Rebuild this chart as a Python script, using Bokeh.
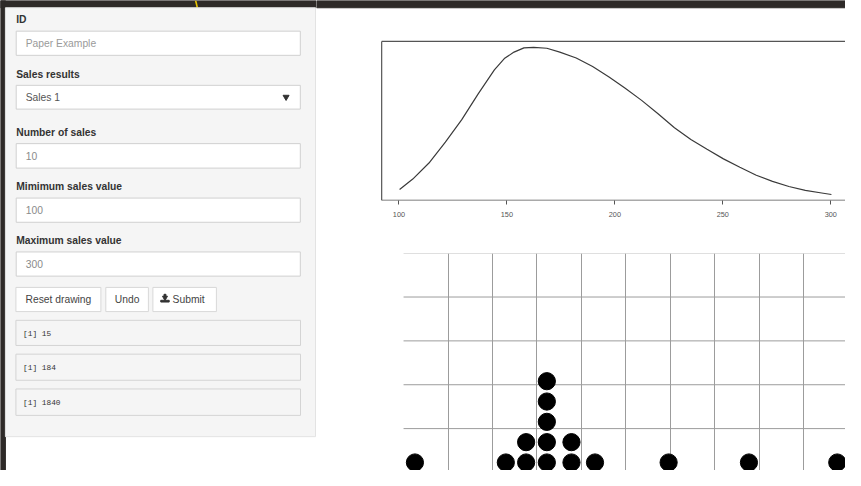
from bokeh.plotting import figure
from bokeh.layouts import row, column
from bokeh.models import Range1d, FixedTicker, Grid
from bokeh.core.properties import value
from bokeh.embed import file_html
from bokeh.resources import INLINE

# ---------------- data ----------------
# smoothed density of the drawn sales values
density_x = [100.3, 106.4, 113.9, 121.5, 129.1, 136.7, 144.2, 148.8, 153.3, 157.9,
             162.4, 168.5, 174.5, 182.1, 189.7, 197.3, 204.8, 212.4, 220.0, 227.6,
             235.2, 242.7, 250.3, 257.9, 265.5, 273.0, 280.6, 288.2, 295.8, 300.3]
density_y = [0.00069, 0.00136, 0.00240, 0.00375, 0.00521, 0.00688, 0.00844, 0.00917, 0.00959, 0.00986,
             0.00990, 0.00984, 0.00959, 0.00921, 0.00865, 0.00798, 0.00725, 0.00646, 0.00559, 0.00469,
             0.00392, 0.00329, 0.00267, 0.00213, 0.00161, 0.00121, 0.00088, 0.00063, 0.00046, 0.00036]
tick_values = [100, 150, 200, 250, 300]

# drawn sales (one dot per sale)
dot_values = [107.4, 149.5, 158.9, 158.9, 168.5, 168.5, 168.5, 168.5, 168.5,
              179.9, 179.9, 190.8, 224.9, 262.1, 303.0]

# form inputs
form_id = "Paper Example"
form_sales = "Sales 1"
number_of_sales = 10
min_sales = 100
max_sales = 300

# ---------------- derived ----------------
levels = []
seen = {}
for v in dot_values:
    seen[v] = seen.get(v, 0) + 1
    levels.append(seen[v])
n_dots = len(dot_values)
mean_val = round(sum(dot_values) / n_dots)
total_val = mean_val * number_of_sales

SANS = value("Liberation Sans")
MONO = value("Liberation Mono")
DARK = "#2e2a28"

# ---------------- left panel (reference pixel units) ----------------
pf = figure(width=316, height=470, x_range=Range1d(0, 322), y_range=Range1d(486, 0),
            x_axis_type=None, y_axis_type=None, output_backend="svg",
            toolbar_location=None, min_border=0)
pf.grid.visible = False
pf.outline_line_color = None
pf.background_fill_color = "white"
pf.border_fill_color = "white"

pf.quad(left=[0], right=[322], top=[0], bottom=[7.5], color=DARK)
pf.quad(left=[0], right=[5], top=[0], bottom=[486], color=DARK)
pf.segment(x0=[198.8], y0=[0], x1=[200.6], y1=[7.5], line_color="#e6c200", line_width=1.6)
pf.quad(left=[5], right=[321], top=[7.5], bottom=[451], fill_color="#f5f5f5", line_color="#e3e3e3")

# input boxes
in_top = [31.7, 87.7, 148.0, 204.3, 260.0]
in_bot = [56.7, 112.3, 173.3, 229.3, 285.0]
pf.quad(left=[16] * 5, right=[305.5] * 5, top=in_top, bottom=in_bot,
        fill_color="white", line_color="#d0d0d0")

# labels
lab_y = [20, 77, 136, 192.7, 248.5]
lab_t = ["ID", "Sales results", "Number of sales", "Mimimum sales value", "Maximum sales value"]
pf.text(x=[16] * 5, y=lab_y, text=lab_t, text_font=SANS, text_font_size="10.3px",
        text_font_style="bold", text_color="#333333", text_baseline="middle")

# input values
pf.text(x=[25.7], y=[44.5], text=[form_id], text_font=SANS, text_font_size="10.3px",
        text_color="#9a9a9a", text_baseline="middle")
pf.text(x=[25.7], y=[100.3], text=[form_sales], text_font=SANS, text_font_size="10.3px",
        text_color="#555555", text_baseline="middle")
pf.text(x=[25.7] * 3, y=[160.8, 217.0, 272.7],
        text=[str(number_of_sales), str(min_sales), str(max_sales)],
        text_font=SANS, text_font_size="10.3px", text_color="#8a8a8a", text_baseline="middle")
pf.scatter(x=[291], y=[99.8], marker="inverted_triangle", size=6, color="#333333")

# buttons
pf.quad(left=[15.7, 107.3, 155.3], right=[102.3, 150.7, 220.0], top=[296.7] * 3, bottom=[321.7] * 3,
        fill_color="white", line_color="#d8d8d8")
pf.text(x=[59.0, 129.0, 191.7], y=[309.3] * 3, text=["Reset drawing", "Undo", "Submit"],
        text_font=SANS, text_font_size="10.3px", text_color="#444444",
        text_baseline="middle", text_align="center")
# download icon
pf.quad(left=[166.6], right=[168.6], top=[303.8], bottom=[306.5], color="#333333")
pf.scatter(x=[167.6], y=[307.3], marker="inverted_triangle", size=5, color="#333333")
pf.quad(left=[163.3], right=[171.9], top=[310.0], bottom=[311.8], color="#333333")

# verbatim outputs
pf.quad(left=[15.7] * 3, right=[305.7] * 3, top=[330.7, 365.7, 401.7], bottom=[356.7, 392.7, 429.0],
        fill_color="#f5f5f5", line_color="#d4d4d4")
pf.text(x=[23] * 3, y=[344.5, 380.3, 415.8],
        text=["[1] %d" % n_dots, "[1] %d" % mean_val, "[1] %d" % total_val],
        text_font=MONO, text_font_size="7.8px", text_color="#333333", text_baseline="middle")

# ---------------- density plot ----------------
# R-style plot box: data range extended by 4 % on each side
xmin, xmax = min(tick_values), max(tick_values)
box_x0 = xmin - 0.04 * (xmax - xmin)
ymin, ymax = min(density_y), max(density_y)
box_y0 = ymin - 0.04 * (ymax - ymin)
box_y1 = ymax + 0.04 * (ymax - ymin)

# frame covers the whole right column (reference px 322..861, 0..206.8)
px_per_x = 2.2                       # reference px per sales unit
fx0 = xmin - (406 - 322) / px_per_x
fx1 = xmin + (861 - 406) / px_per_x
u_y = (box_y1 - box_y0) / 164.4      # density units per reference px
fy0 = box_y0 - 0.1 * u_y
fy1 = box_y1 + 42.3 * u_y
band_y = fy1 - 7.5 * u_y

pd_ = figure(width=529, height=235, x_range=Range1d(fx0, fx1), y_range=Range1d(fy0, fy1),
             y_axis_type=None, output_backend="svg", toolbar_location=None,
             min_border_left=0, min_border_right=0, min_border_top=0, min_border_bottom=35)
pd_.grid.visible = False
pd_.outline_line_color = None
pd_.xaxis.ticker = FixedTicker(ticks=tick_values)
pd_.xaxis.minor_tick_line_color = None
pd_.xaxis.major_tick_in = 0
pd_.xaxis.major_tick_out = 4
pd_.xaxis.axis_line_color = None
pd_.xaxis.major_tick_line_color = "#555555"
pd_.xaxis.major_label_text_font = "Liberation Sans"
pd_.xaxis.major_label_text_font_size = "7.3px"
pd_.xaxis.major_label_text_color = "#555555"
pd_.xaxis.major_label_standoff = 7

pd_.quad(left=[fx0], right=[fx1], top=[fy1], bottom=[band_y], color=DARK)
pd_.segment(x0=[box_x0, box_x0, box_x0], x1=[fx1, fx1, box_x0],
            y0=[box_y1, box_y0, box_y0], y1=[box_y1, box_y0, box_y1],
            line_color="#555555", line_width=1.2)
pd_.line(density_x, density_y, line_color="#3a3a3a", line_width=1.2)

# ---------------- dot drawing area ----------------
gy0, gy1 = 0.605, 11.286
pg = figure(width=529, height=235, x_range=Range1d(fx0, fx1), y_range=Range1d(gy0, gy1),
            x_axis_type=None, y_axis_type=None, output_backend="svg", toolbar_location=None,
            min_border_left=0, min_border_right=0, min_border_top=18, min_border_bottom=0)
pg.outline_line_color = None
grid_x_start = 102.14
x_step = 20.58
y_step = 2.159
x_grid = [122.73 + k * x_step for k in range(10)]
y_grid = [2.667 + k * y_step for k in range(5)]
pg.add_layout(Grid(dimension=0, ticker=FixedTicker(ticks=x_grid), grid_line_color="#9c9c9c"))
pg.segment(x0=[grid_x_start] * len(y_grid), x1=[fx1] * len(y_grid), y0=y_grid, y1=y_grid,
           line_color="#9c9c9c", line_width=1)
pg.scatter(x=dot_values, y=levels, size=17.2, color="black")

layout = row(pf, column(pd_, pg))
open("out.html", "w").write(file_html(layout, INLINE))
